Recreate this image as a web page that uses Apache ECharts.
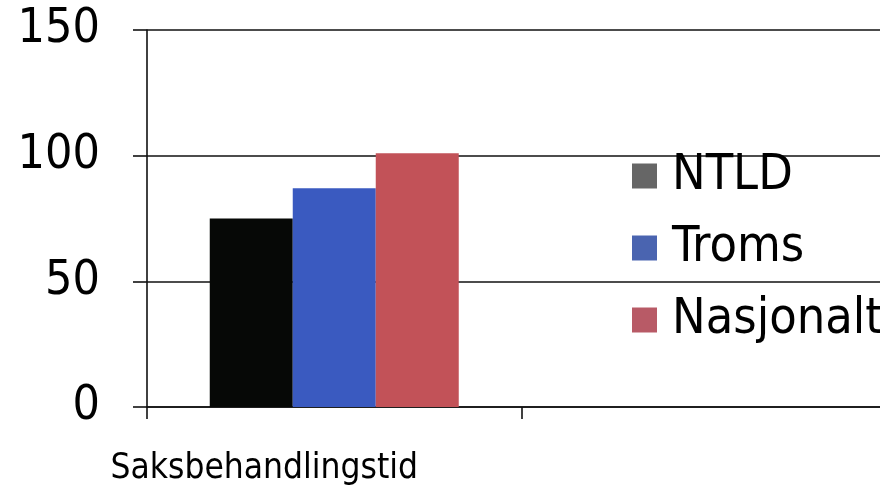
<!DOCTYPE html>
<html>
<head>
<meta charset="utf-8">
<script src="https://cdn.jsdelivr.net/npm/echarts@6/dist/echarts.min.js"></script>
<style>html,body{margin:0;padding:0;background:#fff;overflow:hidden;}#c{width:880px;height:492px;}</style>
</head>
<body>
<div id="c"></div>
<script>
var categories = ['Saksbehandlingstid', ''];
var seriesNames = ['NTLD', 'Troms', 'Nasjonalt'];
var ntld = [75, null];
var troms = [87, null];
var nasjonalt = [101, null];
var yTicks = [0, 50, 100, 150];

var barColors = ['#060806', '#3a5ac0', '#c25258'];
var legendColors = ['#666666', '#4a64b0', '#b85a66'];
var FONT = '"DejaVu Sans Condensed", "DejaVu Sans", sans-serif';

var chart = echarts.init(document.getElementById('c'));
var values = [ntld, troms, nasjonalt];
chart.setOption({
  animation: false,
  backgroundColor: '#ffffff',
  grid: { left: 147, top: 30, bottom: 85, width: 749, containLabel: false, outerBoundsMode: 'none' },
  legend: {
    orient: 'vertical',
    left: 627,
    top: 146,
    itemWidth: 25,
    itemHeight: 25,
    itemGap: 22,
    icon: 'rect',
    data: seriesNames.map(function (n, i) { return { name: n, itemStyle: { color: legendColors[i] } }; }),
    textStyle: { fontFamily: FONT, fontSize: 50, color: '#000', lineHeight: 48, padding: [0, 0, 0, 10] }
  },
  xAxis: {
    type: 'category',
    data: categories,
    boundaryGap: true,
    axisLine: { show: true, lineStyle: { color: '#111', width: 1.6 } },
    axisTick: { show: true, interval: 0, length: 12, lineStyle: { color: '#111', width: 1.6 } },
    axisLabel: { interval: 0, fontFamily: FONT, fontSize: 35, color: '#000', margin: 44, padding: [0, 140, 0, 0] },
    splitLine: { show: false }
  },
  yAxis: {
    type: 'value',
    min: yTicks[0],
    max: yTicks[yTicks.length - 1],
    interval: 50,
    axisLine: { show: true, lineStyle: { color: '#111', width: 1.6 } },
    axisTick: { show: true, length: 14, lineStyle: { color: '#111', width: 1.6 } },
    axisLabel: { fontFamily: FONT, fontSize: 48, color: '#000', margin: 47 },
    splitLine: { show: true, lineStyle: { color: '#111', width: 1.6 } }
  },
  series: seriesNames.map(function (n, i) {
    return {
      name: n,
      type: 'bar',
      data: values[i],
      barWidth: 83,
      barGap: '0%',
      itemStyle: { color: barColors[i] }
    };
  })
});
</script>
</body>
</html>
